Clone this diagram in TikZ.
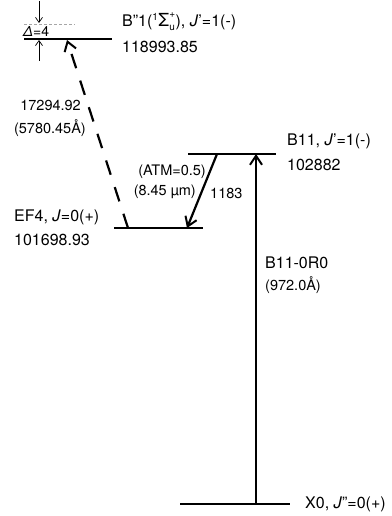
\documentclass[tikz,border=0pt]{standalone}
\usepackage{fontspec}
\setmainfont{TeX Gyre Heros}
\usetikzlibrary{arrows.meta}
\newcommand{\smtxt}[1]{\mbox{\fontsize{10}{10}\selectfont #1}}
\begin{document}
\begin{tikzpicture}[x=1pt,y=-1pt,
  level/.style={line width=1.1pt},
  lab/.style={anchor=west,inner sep=0pt,font=\fontsize{16}{18}\selectfont},
  sublab/.style={anchor=west,inner sep=0pt,font=\fontsize{14.5}{17}\selectfont},
  thickarr/.style={line width=2.2pt,-{Straight Barb[length=9pt,width=12pt,line width=2pt]}},
  thinarr/.style={line width=0.7pt,-{Straight Barb[length=5pt,width=7pt,line width=0.7pt]}},
]
\useasboundingbox (0,0) rectangle (391,516);

% energy levels
\coordinate (BppL) at (24,39);  \coordinate (BppR) at (112,39);
\coordinate (BelL) at (188,154); \coordinate (BelR) at (276,154);
\coordinate (EFL) at (114,228);  \coordinate (EFR) at (203,228);
\coordinate (XL) at (180,504);   \coordinate (XR) at (290,504);
\draw[level] (BppL) -- (BppR);
\draw[level] (BelL) -- (BelR);
\draw[level] (EFL) -- (EFR);
\draw[level] (XL) -- (XR);

% Delta marker
\coordinate (dgL) at (24,24); \coordinate (dgR) at (75,24);
\draw[gray!70,line width=0.6pt,dash pattern=on 3pt off 2pt] (dgL) -- (dgR);
\coordinate (dTop) at (39,1); \coordinate (dTopTip) at (39,23);
\coordinate (dBot) at (39,61); \coordinate (dBotTip) at (39,40);
\draw[thinarr] (dTop) -- (dTopTip);
\draw[thinarr] (dBot) -- (dBotTip);
\node[anchor=west,inner sep=0pt,font=\fontsize{14}{15}\selectfont] (delta) at (23,31.5) {\textit{Δ}=4};

% transitions
\coordinate (dashS) at (128,228); \coordinate (dashE) at (67,40);
\draw[thickarr,dash pattern=on 15pt off 13pt] (dashS) -- (dashE);
\coordinate (atmS) at (217,154); \coordinate (atmE) at (187,228);
\draw[thickarr] (atmS) -- (atmE);
\coordinate (absS) at (256,504); \coordinate (absE) at (256,154);
\draw[thickarr] (absS) -- (absE);

% labels
\node[lab] (tBpp) at (122,22) {B"1(${}^{\smtxt{1}}\mbox{\fontsize{18}{18}\selectfont Σ}^{\smtxt{+}}_{\smtxt{u}}$), \textit{J}'=1(-)};
\node[lab] (eBpp) at (122,47) {118993.85};
\node[sublab,anchor=east] (tVis) at (81,105) {17294.92};
\node[sublab,anchor=east] (tVisW) at (86,128) {(5780.45Å)};
\node[sublab,anchor=east] (tATM) at (206,172) {(ATM=0.5)};
\node[sublab,anchor=east] (tIR) at (196,192) {(8.45 µm)};
\node[sublab] (tIRn) at (210,193) {1183};
\node[lab] (tB11) at (287,141) {B11, \textit{J}'=1(-)};
\node[lab] (eB11) at (287,165) {102882};
\node[lab] (tEF) at (14,217) {EF4, \textit{J}=0(+)};
\node[lab] (eEF) at (14,240) {101698.93};
\node[lab] (tAbs) at (265,263) {B11-0R0};
\node[sublab] (tAbsW) at (265,285) {(972.0Å)};
\node[lab] (tX) at (305,504) {X0, \textit{J}"=0(+)};
\end{tikzpicture}
\end{document}
